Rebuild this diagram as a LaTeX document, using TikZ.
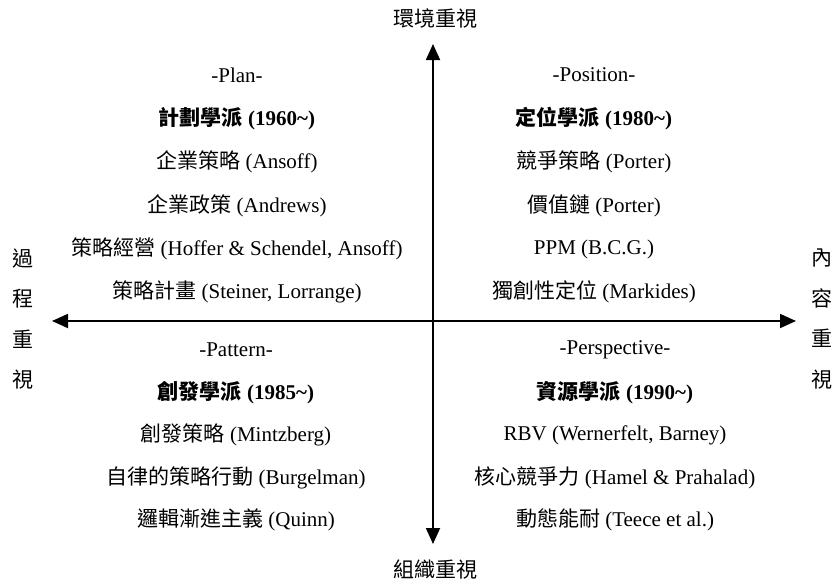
\documentclass[tikz,border=0pt]{standalone}
\usepackage{fontspec}
\setmainfont{Liberation Serif}
\newfontfamily\cjk{Noto Sans CJK TC}
\newcommand{\C}[1]{{\cjk #1}}
\usetikzlibrary{arrows.meta}
\begin{document}
\begin{tikzpicture}[x=1pt,y=-1pt,
  txt/.style={inner sep=0pt,anchor=center,font=\fontsize{21}{25}\selectfont},
  hd/.style={txt,font=\fontsize{21}{25}\selectfont\bfseries},
  vlab/.style={inner sep=0pt,align=center,font=\fontsize{21}{40.5}\selectfont\cjk},
  axis/.style={line width=1.8pt,{Triangle[length=16pt,width=14pt]}-{Triangle[length=16pt,width=14pt]}}]
\useasboundingbox (0,0) rectangle (836,584);
% axes
\coordinate (L) at (52,321);
\coordinate (R) at (796,321);
\coordinate (T) at (433,44);
\coordinate (B) at (433,544);
\draw[axis] (L) -- (R);
\draw[axis] (T) -- (B);
% axis labels
\node[txt] (top) at (435,18) {\C{環境重視}};
\node[txt] (bot) at (435,570) {\C{組織重視}};
\node[vlab] (left) at (23,319) {過\\程\\重\\視};
\node[vlab] (right) at (822,319) {內\\容\\重\\視};
% top-left
\node[txt] (p0) at (237,75) {-Plan-};
\node[hd]  (p1) at (237,119) {\C{計劃學派} (1960\string~)};
\node[txt] (p2) at (237,162) {\C{企業策略} (Ansoff)};
\node[txt] (p3) at (237,206) {\C{企業政策} (Andrews)};
\node[txt] (p4) at (237,249) {\C{策略經營} (Hoffer \& Schendel, Ansoff)};
\node[txt] (p5) at (237,292) {\C{策略計畫} (Steiner, Lorrange)};
% top-right
\node[txt] (q0) at (594,75) {-Position-};
\node[hd]  (q1) at (594,119) {\C{定位學派} (1980\string~)};
\node[txt] (q2) at (594,162) {\C{競爭策略} (Porter)};
\node[txt] (q3) at (594,206) {\C{價值鏈} (Porter)};
\node[txt] (q4) at (594,249) {PPM (B.C.G.)};
\node[txt] (q5) at (594,292) {\C{獨創性定位} (Markides)};
% bottom-left
\node[txt] (r0) at (236,350) {-Pattern-};
\node[hd]  (r1) at (236,393) {\C{創發學派} (1985\string~)};
\node[txt] (r2) at (236,435) {\C{創發策略} (Mintzberg)};
\node[txt] (r3) at (236,478) {\C{自律的策略行動} (Burgelman)};
\node[txt] (r4) at (236,520) {\C{邏輯漸進主義} (Quinn)};
% bottom-right
\node[txt] (s0) at (615,350) {-Perspective-};
\node[hd]  (s1) at (615,393) {\C{資源學派} (1990\string~)};
\node[txt] (s2) at (615,435) {RBV (Wernerfelt, Barney)};
\node[txt] (s3) at (615,478) {\C{核心競爭力} (Hamel \& Prahalad)};
\node[txt] (s4) at (615,520) {\C{動態能耐} (Teece et al.)};
\end{tikzpicture}
\end{document}
